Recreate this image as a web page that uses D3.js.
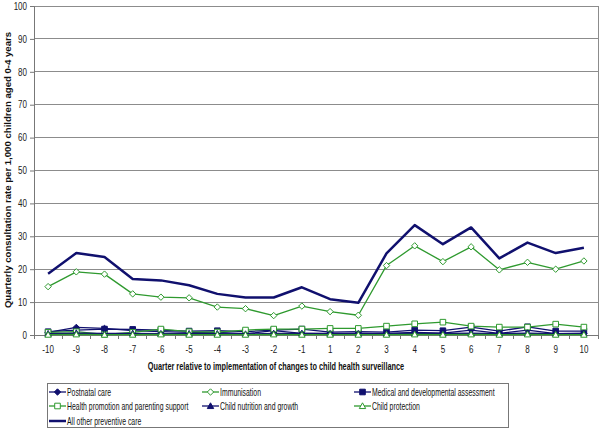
<!DOCTYPE html>
<html><head><meta charset="utf-8">
<script src="https://cdn.jsdelivr.net/npm/d3@7"></script>
<style>html,body{margin:0;padding:0;background:#fff}svg{display:block;font-family:"Liberation Sans",Arial,sans-serif}</style>
</head><body><svg id="c" width="600" height="428"></svg>
<script>
const quarters = [-10,-9,-8,-7,-6,-5,-4,-3,-2,-1,1,2,3,4,5,6,7,8,9,10];
const yTicks = [0,10,20,30,40,50,60,70,80,90,100];
const postnatal     = [0.8,2.3,2.0,1.3,1.0,0.8,0.8,0.4,1.3,0.5,0.5,0.5,0.5,0.8,0.6,1.5,0.5,1.5,0.4,0.5];
const immunisation  = [14.7,19.2,18.5,12.5,11.5,11.3,8.5,8.0,5.9,8.8,7.1,6.0,21.1,27.1,22.3,26.8,19.8,22.1,20.0,22.5];
const medical       = [1.0,1.5,1.8,1.7,1.5,1.2,1.3,1.0,1.5,1.8,0.9,1.0,0.9,1.5,1.3,2.4,1.2,2.5,1.2,1.2];
const healthPromo   = [0.8,1.0,0.2,0.8,1.8,1.0,0.9,1.5,1.8,1.8,2.0,2.0,2.7,3.4,3.9,2.7,2.4,2.4,3.3,2.4];
const nutrition     = [0.4,0.6,0.5,0.5,0.4,0.4,0.4,0.3,0.5,0.5,0.4,0.4,0.4,0.5,0.5,0.6,0.4,0.6,0.4,0.5];
const protection    = [0.1,0.2,0.1,0.1,0.2,0.1,0.1,0.1,0.2,0.1,0.1,0.1,0.1,0.2,0.1,0.2,0.1,0.2,0.1,0.1];
const allOther      = [18.6,24.9,23.7,17.0,16.6,15.1,12.5,11.4,11.4,14.5,10.9,9.8,24.8,33.4,27.6,32.7,23.3,28.1,24.9,26.5];

const navy = "#10106e", green = "#2f9a2f";
const series = [
  {name:"Postnatal care", values:postnatal, color:navy, marker:"diamond", fill:true},
  {name:"Immunisation", values:immunisation, color:green, marker:"diamond", fill:false},
  {name:"Medical and developmental assessment", values:medical, color:navy, marker:"square", fill:true},
  {name:"Health promotion and parenting support", values:healthPromo, color:green, marker:"square", fill:false},
  {name:"Child nutrition and growth", values:nutrition, color:navy, marker:"triangle", fill:true},
  {name:"Child protection", values:protection, color:green, marker:"triangle", fill:false},
  {name:"All other preventive care", values:allOther, color:navy, marker:null, fill:true, width:2.5}
];

const svg = d3.select("#c");
const L = 34, R = 598, T = 6, B = 335;
const SQ = 0.69;
function squeeze(sel, f){ sel.each(function(){ const w=this.getComputedTextLength(); d3.select(this).attr("textLength", w*f).attr("lengthAdjust","spacingAndGlyphs"); }); }

const x = d3.scaleBand().domain(quarters).range([L,R]);
const y = d3.scaleLinear().domain([0,100]).range([B,T]);

// gridlines
svg.append("g").selectAll("line").data(yTicks.filter(d=>d>0)).join("line")
  .attr("x1",L).attr("x2",R).attr("y1",d=>y(d)).attr("y2",d=>y(d))
  .attr("stroke","#8c8c8c").attr("stroke-width",1).attr("shape-rendering","crispEdges");
svg.append("line").attr("x1",R).attr("x2",R).attr("y1",T).attr("y2",B).attr("stroke","#8c8c8c").attr("shape-rendering","crispEdges");

// y axis
const ya = svg.append("g").attr("transform",`translate(${L},0)`)
  .call(d3.axisLeft(y).tickValues(yTicks).tickSize(4).tickPadding(3));
ya.select(".domain").attr("stroke","#777");
ya.selectAll(".tick line").attr("stroke","#777");
ya.selectAll("text").attr("font-size","10px").attr("fill","#222").attr("font-family","Liberation Sans, Arial, sans-serif");
squeeze(ya.selectAll("text"), 0.8);

// x axis
const xa = svg.append("g").attr("transform",`translate(0,${B})`)
  .call(d3.axisBottom(x).tickSize(0).tickPadding(11));
xa.select(".domain").attr("stroke","#777");
xa.selectAll("text").attr("font-size","10px").attr("fill","#222").attr("font-family","Liberation Sans, Arial, sans-serif");
squeeze(xa.selectAll("text"), 0.8);
svg.append("g").selectAll("line").data(d3.range(quarters.length+1)).join("line")
  .attr("x1",i=>L+i*x.step()).attr("x2",i=>L+i*x.step()).attr("y1",B).attr("y2",B+4)
  .attr("stroke","#777").attr("shape-rendering","crispEdges");

// markers
function markerPath(type, cx, cy){
  if(type==="diamond"){ const s=3.2; return `M${cx},${cy-s}L${cx+s},${cy}L${cx},${cy+s}L${cx-s},${cy}Z`; }
  if(type==="square"){ const s=2.8; return `M${cx-s},${cy-s}H${cx+s}V${cy+s}H${cx-s}Z`; }
  if(type==="triangle"){ const s=3.2; return `M${cx},${cy-s}L${cx+s},${cy+s*0.8}L${cx-s},${cy+s*0.8}Z`; }
  return "";
}
const line = d3.line().x((d,i)=>x(quarters[i])+x.bandwidth()/2).y(d=>y(d));
const g = svg.append("g");
series.forEach(s=>{
  g.append("path").attr("d",line(s.values)).attr("fill","none").attr("stroke",s.color)
    .attr("stroke-width",s.width||1.3).attr("stroke-linejoin","round");
  if(s.marker){
    g.append("g").selectAll("path").data(s.values).join("path")
      .attr("d",(d,i)=>markerPath(s.marker, x(quarters[i])+x.bandwidth()/2, y(d)))
      .attr("fill",s.fill?s.color:"#fff").attr("stroke",s.color).attr("stroke-width",1);
  }
});

// axis titles
svg.append("text").attr("transform","translate(11,170) rotate(-90)").attr("text-anchor","middle")
  .attr("font-size","9.6px").attr("font-weight","bold").attr("fill","#111")
  .text("Quarterly consultation rate per 1,000 children aged 0-4 years");
svg.append("text").attr("transform","translate(276,370) scale(0.72,1)").attr("text-anchor","middle")
  .attr("font-size","10.2px").attr("font-weight","bold").attr("fill","#111")
  .text("Quarter relative to implementation of changes to child health surveillance");

// legend
svg.append("rect").attr("x",47.5).attr("y",383.5).attr("width",461).attr("height",44)
  .attr("fill","#fff").attr("stroke","#777");
const cols=[49,202,354], rows=[392,406,421];
series.forEach((s,i)=>{
  const cx=cols[i%3], cy=rows[Math.floor(i/3)];
  const lg=svg.append("g");
  lg.append("line").attr("x1",cx).attr("x2",cx+17).attr("y1",cy).attr("y2",cy).attr("stroke",s.color).attr("stroke-width",s.width||1.3);
  if(s.marker) lg.append("path").attr("d",markerPath(s.marker,cx+8.5,cy)).attr("fill",s.fill?s.color:"#fff").attr("stroke",s.color);
  lg.append("text").attr("transform",`translate(${cx+18},${cy+3.5}) scale(${SQ},1)`)
    .attr("font-size","10px").attr("fill","#111").text(s.name);
});
</script></body></html>
